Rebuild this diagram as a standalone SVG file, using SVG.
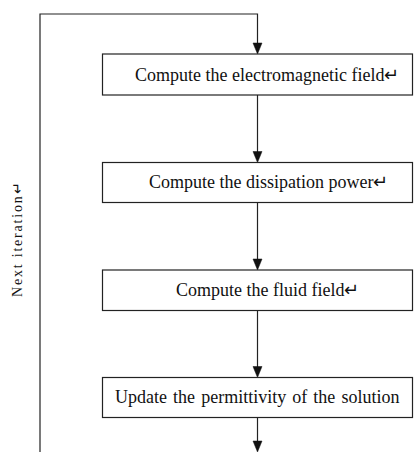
<svg xmlns="http://www.w3.org/2000/svg" width="414" height="452" viewBox="0 0 414 452">
<style>
.box{fill:#fff;stroke:#222;stroke-width:1.2}
.lbl{font-family:"Liberation Serif","Times New Roman",serif;font-size:18px;fill:#111}
.side{font-family:"Liberation Serif","Times New Roman",serif;font-size:14px;letter-spacing:1.8px;fill:#111}
.con{fill:none;stroke:#222;stroke-width:1.2}
.ah{fill:#111;stroke:#111;stroke-width:0.5}
</style>
<rect width="414" height="452" fill="#fff"/>
<g id="connectors">
<path class="con" d="M40,452 V14 H257.5 V46"/>
<polygon class="ah" points="253,43 262,43 257.5,54"/>
<path class="con" d="M257.5,95 V155"/>
<polygon class="ah" points="253,151.5 262,151.5 257.5,162.5"/>
<path class="con" d="M257.5,202.5 V262"/>
<polygon class="ah" points="253,259 262,259 257.5,270"/>
<path class="con" d="M257.5,310.5 V370"/>
<polygon class="ah" points="253,366.5 262,366.5 257.5,377.5"/>
<path class="con" d="M257.5,417.5 V445"/>
<polygon class="ah" points="253,441 262,441 257.5,452"/>
</g>
<g id="n1">
<rect class="box" x="102.5" y="54" width="310" height="41"/>
<text class="lbl" x="135" y="80.5">Compute the electromagnetic field↵</text>
</g>
<g id="n2">
<rect class="box" x="102.5" y="162.5" width="310" height="40"/>
<text class="lbl" x="149" y="188">Compute the dissipation power↵</text>
</g>
<g id="n3">
<rect class="box" x="102.5" y="270" width="310" height="40.5"/>
<text class="lbl" x="176" y="296">Compute the fluid field↵</text>
</g>
<g id="n4">
<rect class="box" x="102.5" y="377.5" width="310" height="40"/>
<text class="lbl" x="115" y="403" word-spacing="1.6">Update the permittivity of the solution</text>
</g>
<g id="label-next">
<text class="side" x="21.5" y="297" transform="rotate(-90 21.5 297)">Next iteration↵</text>
</g>
</svg>
